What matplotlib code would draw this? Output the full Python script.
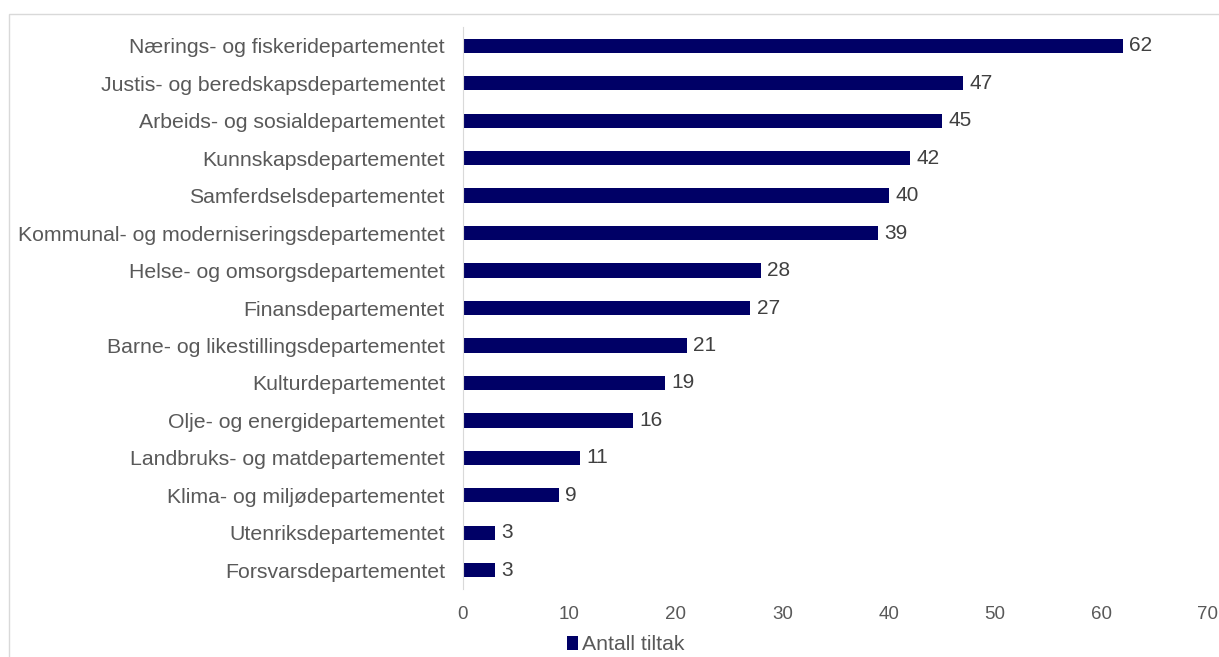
import matplotlib
matplotlib.use("Agg")
import matplotlib.pyplot as plt
from matplotlib.patches import Rectangle

departments = [
    "Nærings- og fiskeridepartementet",
    "Justis- og beredskapsdepartementet",
    "Arbeids- og sosialdepartementet",
    "Kunnskapsdepartementet",
    "Samferdselsdepartementet",
    "Kommunal- og moderniseringsdepartementet",
    "Helse- og omsorgsdepartementet",
    "Finansdepartementet",
    "Barne- og likestillingsdepartementet",
    "Kulturdepartementet",
    "Olje- og energidepartementet",
    "Landbruks- og matdepartementet",
    "Klima- og miljødepartementet",
    "Utenriksdepartementet",
    "Forsvarsdepartementet",
]
antall_tiltak = [62, 47, 45, 42, 40, 39, 28, 27, 21, 19, 16, 11, 9, 3, 3]
x_ticks = [0, 10, 20, 30, 40, 50, 60, 70]

BAR = "#000066"
TEXT = "#595959"

plt.rcParams["font.family"] = ["Liberation Sans", "DejaVu Sans"]

fig = plt.figure(figsize=(12.19, 6.57), dpi=100)
W, H = 1219, 657
ax = fig.add_axes([463 / W, 1 - 589 / H, (1208 - 463) / W, (589 - 27) / H])

# outer chart frame
fig.patches.append(Rectangle((9 / W, -0.1), 1.2, 1 - 14 / H + 0.1, transform=fig.transFigure,
                             fill=False, edgecolor="#d9d9d9", linewidth=1))

pos = list(range(len(departments)))
bars = ax.barh(pos, antall_tiltak, height=0.38, color=BAR, label="Antall tiltak")
for p, v in zip(pos, antall_tiltak):
    ax.text(v + 0.6, p, str(v), va="center", ha="left", fontsize=15, color="#404040")

ax.set_ylim(len(departments) - 0.5, -0.5)
ax.set_xlim(0, 70)
ax.set_xticks(x_ticks)
ax.set_yticks(pos)
ax.set_yticklabels(departments)
ax.tick_params(axis="both", length=0, labelsize=15.3, labelcolor=TEXT)
ax.tick_params(axis="y", pad=13)
ax.tick_params(axis="x", pad=12, labelsize=13.5)
for s in ["top", "right", "bottom"]:
    ax.spines[s].set_visible(False)
ax.spines["left"].set_color("#d9d9d9")

fig.legend(handles=[bars], labels=["Antall tiltak"], loc="center", bbox_to_anchor=(626 / W, 1 - 645 / H),
           frameon=False, fontsize=15.3, labelcolor=TEXT, handlelength=0.5, handleheight=0.6,
           handletextpad=0.2)

fig.savefig("out.png", dpi=100)
